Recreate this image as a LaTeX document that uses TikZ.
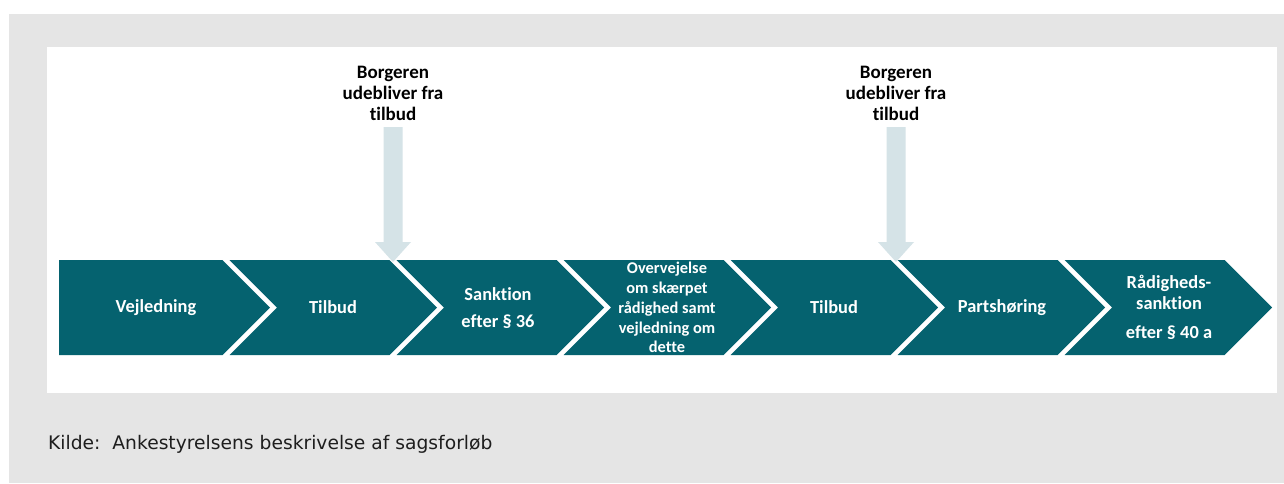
\documentclass[tikz,border=0pt]{standalone}
\usepackage{fontspec}
\setmainfont{Carlito}[Ligatures=NoCommon]
\newfontfamily\capfont{DejaVu Sans}
\definecolor{bggray}{HTML}{E5E5E5}
\definecolor{tealc}{HTML}{05626F}
\definecolor{arrc}{HTML}{D5E3E7}
\definecolor{captxt}{HTML}{1E1E1E}
\begin{document}
\begin{tikzpicture}[x=1pt,y=-1pt,
  chev/.style={fill=tealc},
  ctext/.style={text=white,font=\bfseries\fontsize{18.4}{21}\selectfont,align=center,inner sep=0pt},
  ltext/.style={text=black,font=\bfseries\fontsize{19}{21}\selectfont,align=center,inner sep=0pt},
  arr/.style={fill=arrc}]
\useasboundingbox (0,0) rectangle (1284,483);
\fill[bggray] (9,14) rectangle (1284,483);
\fill[white] (47,47) rectangle (1277,393);
% labels and arrows
\node[ltext] (lab1) at (393,93) {Borgeren\\udebliver fra\\tilbud};
\node[ltext] (lab2) at (896,93) {Borgeren\\udebliver fra\\tilbud};
\coordinate (a1s) at (393,127);
\coordinate (a2s) at (896,127);
\foreach \a in {a1s,a2s}{
  \fill[arr] (\a) ++(-9.5,0) -- ++(0,115) -- ++(-8.5,0) -- ++(18,20) -- ++(18,-20) -- ++(-8.5,0) -- ++(0,-115) -- cycle;
}
% chevrons
\fill[chev] (59,260) -- (222.5,260) -- (270,307.5) -- (222.5,355) -- (59,355) -- cycle;
\foreach \i in {1,...,6}{
  \pgfmathsetmacro\Tp{270+167*(\i-1)}
  \pgfmathsetmacro\Tc{270+167*\i}
  \fill[chev] (\Tp+7-47.5,260) -- (\Tc-47.5,260) -- (\Tc,307.5) -- (\Tc-47.5,355) -- (\Tp+7-47.5,355) -- (\Tp+7,307.5) -- cycle;
}
\node[ctext] (c0) at (156,307.5) {Vejledning};
\node[ctext] (c1) at (333,307.5) {Tilbud};
\node[ctext] (c2) at (498,308.5) {Sanktion\\[6pt]efter § 36};
\node[ctext,font=\bfseries\fontsize{16.4}{19.8}\selectfont] (c3) at (667,307.5) {Overvejelse\\om skærpet\\rådighed samt\\vejledning om\\dette};
\node[ctext] (c4) at (834,307.5) {Tilbud};
\node[ctext] (c5) at (1002,307.5) {Partshøring};
\node[ctext] (c6) at (1169,307) {Rådigheds-\\sanktion\\[8pt]efter § 40 a};
% caption
\node[anchor=west,inner sep=0pt,text=captxt,font=\capfont\fontsize{18.7}{22}\selectfont] (cap) at (48,444) {Kilde:\ \ Ankestyrelsens beskrivelse af sagsforløb};
\end{tikzpicture}
\end{document}
